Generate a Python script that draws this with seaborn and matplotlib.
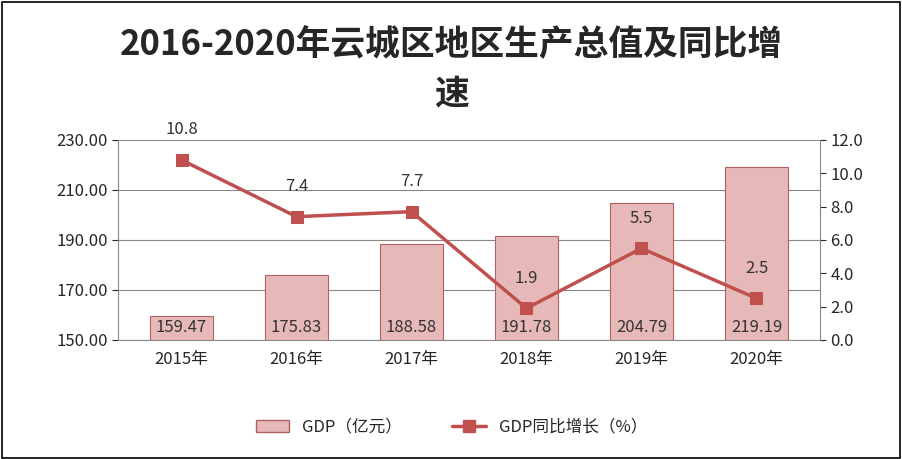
import matplotlib
matplotlib.use("Agg")
import matplotlib.pyplot as plt
import seaborn as sns
import pandas as pd
from matplotlib.patches import Patch
from matplotlib.lines import Line2D

years = ["2015年", "2016年", "2017年", "2018年", "2019年", "2020年"]
gdp = [159.47, 175.83, 188.58, 191.78, 204.79, 219.19]
growth = [10.8, 7.4, 7.7, 1.9, 5.5, 2.5]

sns.set_style("white")
plt.rcParams['font.family'] = ['Noto Sans CJK SC', 'DejaVu Sans']

df = pd.DataFrame({"year": years, "gdp": gdp, "growth": growth})

fig = plt.figure(figsize=(9.03, 4.59), dpi=100)
ax = fig.add_axes([118/903, 1 - 340/459, (820-118)/903, 200/459])
sns.barplot(data=df, x="year", y="gdp", color="#E6B9B8", edgecolor="#B0605E",
            linewidth=0.8, width=0.55, ax=ax, saturation=1, zorder=2)
ax.set_ylim(150, 230)
ax.set_yticks([150, 170, 190, 210, 230])
ax.set_yticklabels([f"{v:.2f}" for v in [150, 170, 190, 210, 230]], fontsize=12)
ax.grid(axis="y", color="#888888", linewidth=0.8, zorder=0)
ax.set_axisbelow(True)
ax.set_xlabel("")
ax.set_ylabel("")
ax.tick_params(axis="x", labelsize=12, length=0, pad=8)
for i, v in enumerate(gdp):
    ax.text(i, 155, f"{v:.2f}", ha="center", va="center", fontsize=12, color="#333333", zorder=5)
for s in ["top", "right"]:
    ax.spines[s].set_visible(False)
ax.spines["left"].set_color("#888888")
ax.spines["bottom"].set_color("#888888")

ax2 = ax.twinx()
sns.lineplot(x=list(range(len(years))), y=growth, ax=ax2, color="#C0504D", linewidth=2.5,
             marker="s", markersize=9, markeredgecolor="#C0504D", zorder=4)
ax2.set_ylim(0, 12)
ax2.set_yticks([0, 2, 4, 6, 8, 10, 12])
ax2.set_yticklabels([f"{v:.1f}" for v in range(0, 13, 2)], fontsize=12)
for i, v in enumerate(growth):
    ax2.text(i, v + 1.3, f"{v}", ha="center", va="bottom", fontsize=12, color="#333333")
for s in ["top", "left", "bottom"]:
    ax2.spines[s].set_visible(False)
ax2.spines["right"].set_color("#888888")
ax2.tick_params(axis="y", length=4)
ax.tick_params(axis="y", length=4)

fig.text(0.5, 1 - 45/459, "2016-2020年云城区地区生产总值及同比增", ha="center", va="center",
         fontsize=25, fontweight="bold")
fig.text(0.5, 1 - 95/459, "速", ha="center", va="center", fontsize=25, fontweight="bold")

handles = [Patch(facecolor="#E6B9B8", edgecolor="#B0605E"),
           Line2D([0], [0], color="#C0504D", lw=2.5, marker="s", markersize=9)]
fig.legend(handles, ["GDP（亿元）", "GDP同比增长（%）"], loc="center", ncol=2,
           bbox_to_anchor=(0.5, 1 - 427/459), frameon=False, fontsize=12, columnspacing=3)

fig.patches.append(plt.Rectangle((0.002, 0.003), 0.995, 0.993, transform=fig.transFigure,
                                 fill=False, edgecolor="black", linewidth=1.2))
fig.savefig("out.png", dpi=100)
